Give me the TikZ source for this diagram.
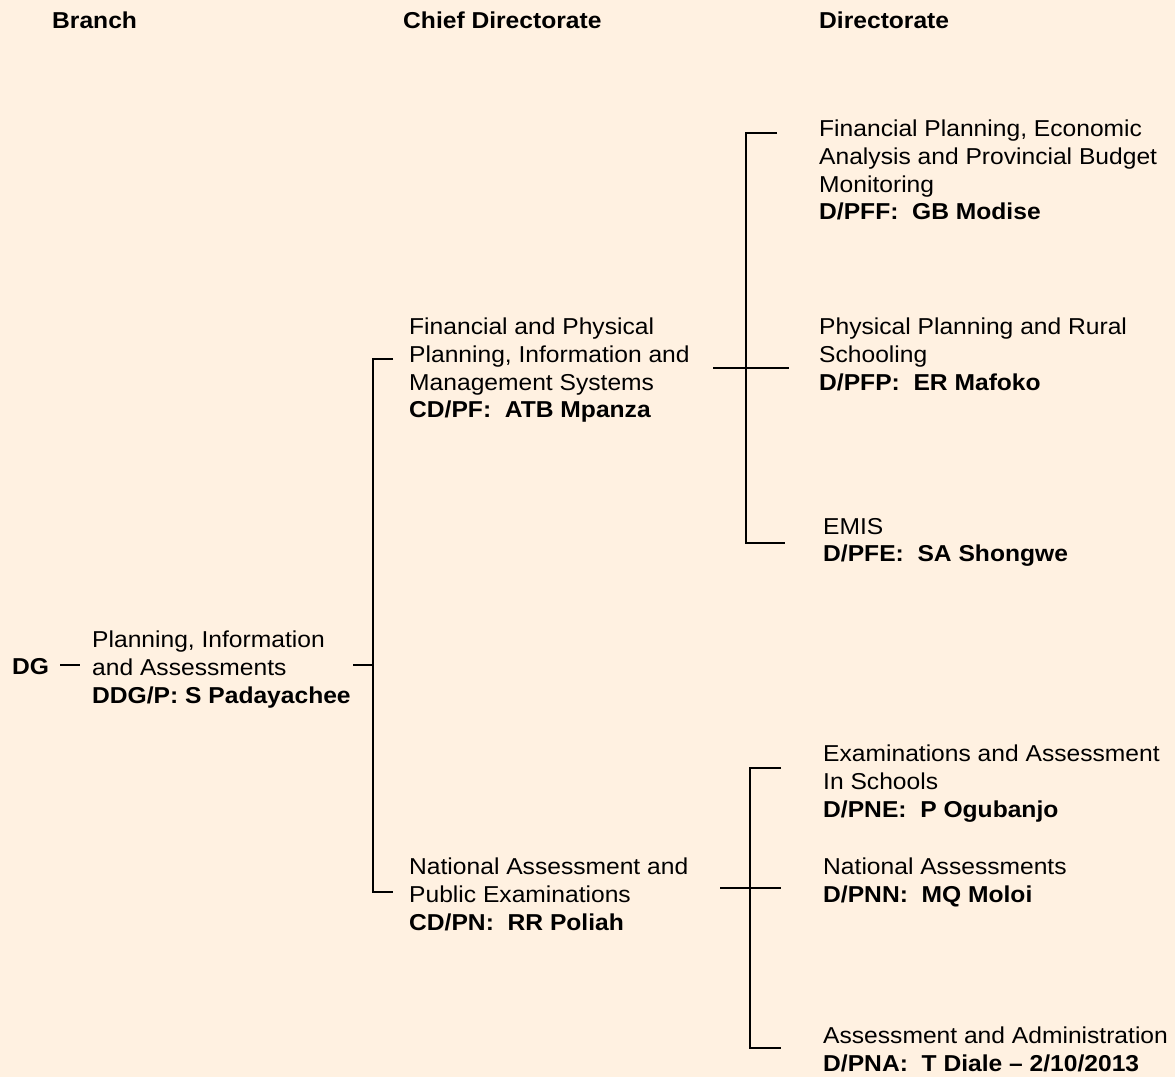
\documentclass[tikz,border=0pt]{standalone}
\usepackage{fontspec}
\setmainfont[FakeStretch=1.07]{Liberation Sans}
\definecolor{paper}{RGB}{255,241,225}
\tikzset{unit/.style={anchor=north west,inner sep=0pt,align=left,
                      font=\fontsize{23}{27.7}\selectfont},
         head/.style={unit,font=\fontsize{23}{27.7}\selectfont\bfseries},
         bar/.style={line width=1.3pt}}

\begin{document}
\begin{tikzpicture}[x=1pt,y=-1pt]
\fill [paper] (0,0) rectangle (1175,1077);
\useasboundingbox (0,0) rectangle (1175,1077);
\node [head] (branchhead) at (52,12) {Branch};
\node [head] (chiefhead) at (403,12) {Chief Directorate};
\node [head] (dirhead) at (819,12) {Directorate};
\node [head] (dg) at (12,658) {DG};
\node [unit] (branch) at (92,631) {Planning, Information\\and Assessments\\\textbf{DDG/P: S Padayachee}};
\node [unit] (cdpf) at (409,318) {Financial and Physical\\Planning, Information and\\Management Systems\\\textbf{CD/PF:\ \ ATB Mpanza}};
\node [unit] (cdpn) at (409,858) {National Assessment and\\Public Examinations\\\textbf{CD/PN:\ \ RR Poliah}};
\node [unit] (dpff) at (819,120) {Financial Planning, Economic\\Analysis and Provincial Budget\\Monitoring\\\textbf{D/PFF:\ \ GB Modise}};
\node [unit] (dpfp) at (819,318) {Physical Planning and Rural\\Schooling\\\textbf{D/PFP:\ \ ER Mafoko}};
\node [unit] (dpfe) at (823,518) {EMIS\\\textbf{D/PFE:\ \ SA Shongwe}};
\node [unit] (dpne) at (823,745) {Examinations and Assessment\\In Schools\\\textbf{D/PNE:\ \ P Ogubanjo}};
\node [unit] (dpnn) at (823,858) {National Assessments\\\textbf{D/PNN:\ \ MQ Moloi}};
\node [unit] (dpna) at (823,1027) {Assessment and Administration\\\textbf{D/PNA:\ \ T Diale -- 2/10/2013}};
% bus lines
\coordinate (busa) at (373,665);
\coordinate (busa1) at (373,359);
\coordinate (busa2) at (373,892);
\coordinate (busb) at (746,368);
\coordinate (busb1) at (746,133);
\coordinate (busb2) at (746,543);
\coordinate (busc) at (750,888);
\coordinate (busc1) at (750,768);
\coordinate (busc2) at (750,1048);
\draw [bar] ([xshift=-32pt]busa -| branch.west) -- ([xshift=-12pt]busa -| branch.west);
\draw [bar] ([xshift=-20pt]busa) -- (busa);
\draw [bar] ([xshift=-16pt]busa1 -| cdpf.west) -- (busa1) -- (busa2) -- ([xshift=-16pt]busa2 -| cdpn.west);
\draw [bar] ([xshift=-33pt]busb) -- ([xshift=-30pt]busb -| dpfp.west);
\draw [bar] ([xshift=-42pt]busb1 -| dpff.west) -- (busb1) -- (busb2) -- ([xshift=-38pt]busb2 -| dpfe.west);
\draw [bar] ([xshift=-30pt]busc) -- ([xshift=-42pt]busc -| dpnn.west);
\draw [bar] ([xshift=-42pt]busc1 -| dpne.west) -- (busc1) -- (busc2) -- ([xshift=-42pt]busc2 -| dpna.west);
\end{tikzpicture}
\end{document}
